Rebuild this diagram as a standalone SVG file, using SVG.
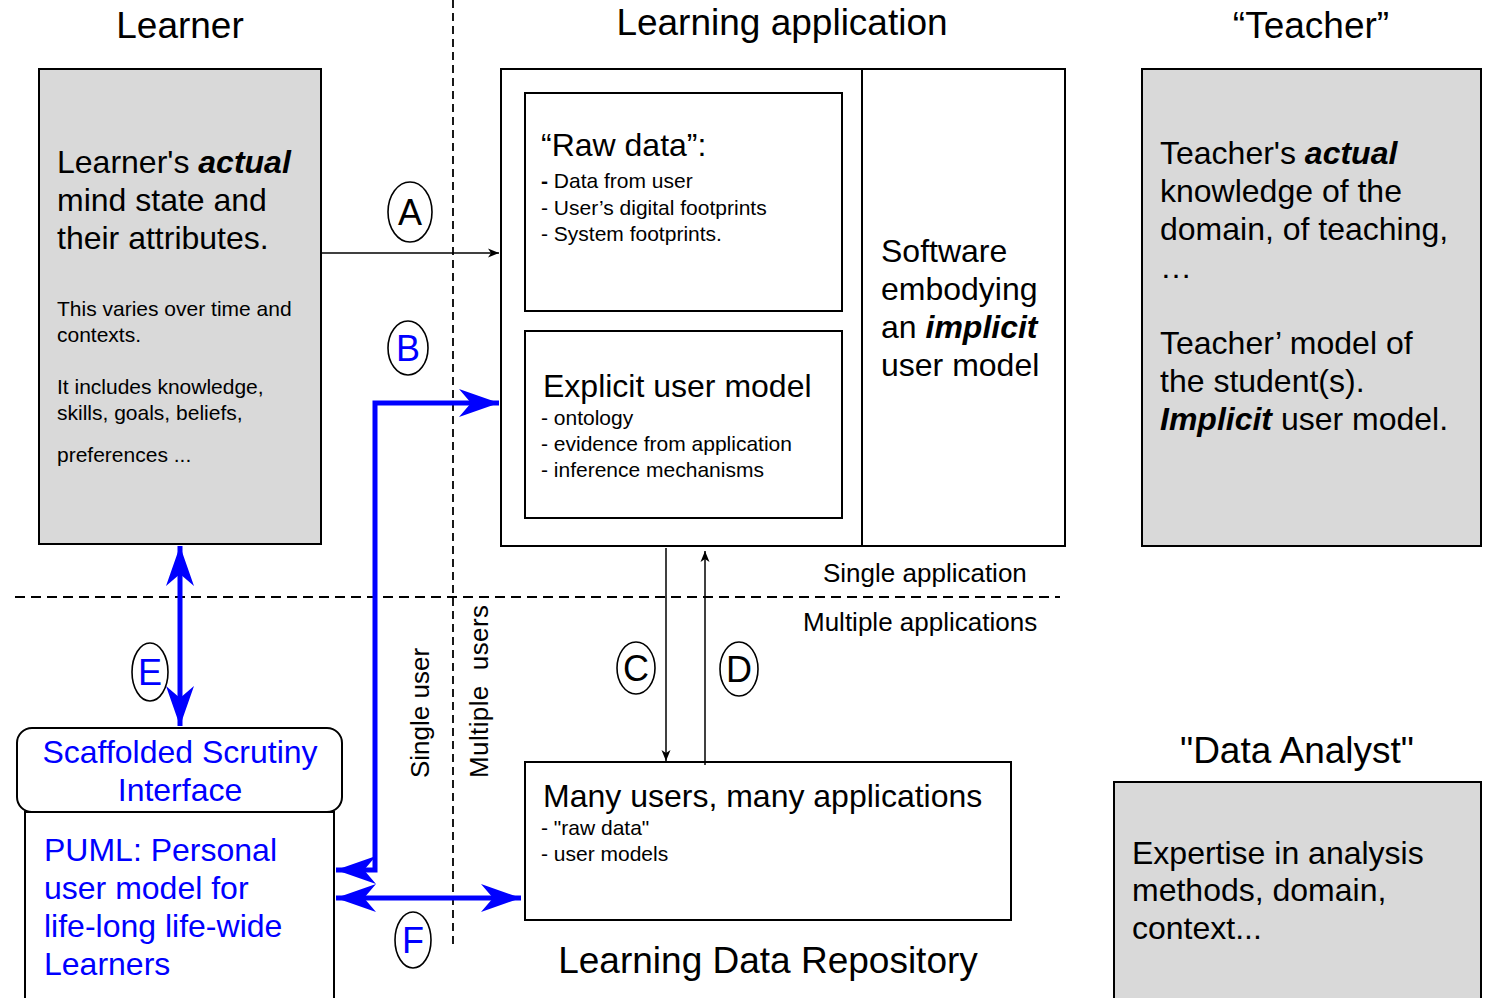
<svg xmlns="http://www.w3.org/2000/svg" width="1491" height="998" viewBox="0 0 1491 998">
<style>
text{font-family:"Liberation Sans",Arial,sans-serif;fill:#000}
.t37{font-size:37px}
.t32{font-size:32px}
.t26{font-size:26px}
.t21{font-size:21px}
.blue{fill:#0000ff}
.bi{font-weight:bold;font-style:italic}
.gray{fill:#d9d9d9;stroke:#000;stroke-width:2}
.box{fill:#fff;stroke:#000;stroke-width:2}
.dash{stroke:#000;stroke-width:1.8;fill:none}
.thin{stroke:#000;stroke-width:1.5;fill:none}
.thick{stroke:#0000ff;stroke-width:5;fill:none}
.lbl{fill:#fff;stroke:#000;stroke-width:1.6}
.ltr{font-size:36px;text-anchor:middle}
</style>
<defs>
<marker id="ah" markerUnits="userSpaceOnUse" markerWidth="14" markerHeight="12" viewBox="-12 -6 14 12" refX="0" refY="0" orient="auto-start-reverse">
<path d="M0,0 L-11,-4.5 L-8,0 L-11,4.5 Z" fill="#000"/>
</marker>
<marker id="bh" markerUnits="userSpaceOnUse" markerWidth="44" markerHeight="32" viewBox="-42 -16 44 32" refX="0" refY="0" orient="auto-start-reverse">
<path d="M0,0 L-40,-14 L-28,0 L-40,14 Z" fill="#0000ff"/>
</marker>
</defs>
<rect width="1491" height="998" fill="#fff"/>

<g id="dividers">
<line class="dash" x1="453" y1="0" x2="453" y2="945" stroke-dasharray="8 5"/>
<line class="dash" x1="15" y1="597" x2="1060" y2="597" stroke-dasharray="10 6"/>
</g>

<g id="titles">
<text class="t37" x="180" y="38" text-anchor="middle">Learner</text>
<text class="t37" x="782" y="35" text-anchor="middle">Learning application</text>
<text class="t37" x="1311" y="38" text-anchor="middle">“Teacher”</text>
<text class="t37" x="1297" y="763" text-anchor="middle">"Data Analyst"</text>
<text class="t37" x="768" y="973" text-anchor="middle">Learning Data Repository</text>
<text class="t26" x="823" y="582">Single application</text>
<text class="t26" x="803" y="631">Multiple applications</text>
<text class="t26" transform="translate(429,778) rotate(-90)">Single user</text>
<text class="t26" transform="translate(488,778) rotate(-90)" xml:space="preserve" textLength="173" lengthAdjust="spacing">Multiple  users</text>
</g>

<g id="learner">
<rect class="gray" x="39" y="69" width="282" height="475"/>
<text class="t32" x="57" y="173">Learner's <tspan class="bi">actual</tspan></text>
<text class="t32" x="57" y="211">mind state and</text>
<text class="t32" x="57" y="249">their attributes.</text>
<text class="t21" x="57" y="316">This varies over time and</text>
<text class="t21" x="57" y="342">contexts.</text>
<text class="t21" x="57" y="394">It includes knowledge,</text>
<text class="t21" x="57" y="420">skills, goals, beliefs,</text>
<text class="t21" x="57" y="462">preferences ...</text>
</g>

<g id="learning-application">
<rect class="box" x="501" y="69" width="564" height="477"/>
<line x1="862" y1="69" x2="862" y2="546" stroke="#000" stroke-width="2"/>
<text class="t32" x="881" y="262">Software</text>
<text class="t32" x="881" y="300">embodying</text>
<text class="t32" x="881" y="338">an <tspan class="bi">implicit</tspan></text>
<text class="t32" x="881" y="376">user model</text>
</g>

<g id="raw-data">
<rect class="box" x="525" y="93" width="317" height="218"/>
<text class="t32" x="541" y="156">“Raw data”:</text>
<text class="t21" x="541" y="188"><tspan font-weight="bold">-</tspan> Data from user</text>
<text class="t21" x="541" y="215">- User’s digital footprints</text>
<text class="t21" x="541" y="241">- System footprints.</text>
</g>

<g id="explicit-user-model">
<rect class="box" x="525" y="331" width="317" height="187"/>
<text class="t32" x="543" y="397">Explicit user model</text>
<text class="t21" x="541" y="425">- ontology</text>
<text class="t21" x="541" y="451">- evidence from application</text>
<text class="t21" x="541" y="477">- inference mechanisms</text>
</g>

<g id="teacher">
<rect class="gray" x="1142" y="69" width="339" height="477"/>
<text class="t32" x="1160" y="164">Teacher's <tspan class="bi">actual</tspan></text>
<text class="t32" x="1160" y="202">knowledge of the</text>
<text class="t32" x="1160" y="240">domain, of teaching,</text>
<text class="t32" x="1160" y="278">…</text>
<text class="t32" x="1160" y="354">Teacher’ model of</text>
<text class="t32" x="1160" y="392">the student(s).</text>
<text class="t32" x="1160" y="430"><tspan class="bi">Implicit</tspan> user model.</text>
</g>

<g id="repository">
<rect class="box" x="525" y="762" width="486" height="158"/>
<text class="t32" x="543" y="807">Many users, many applications</text>
<text class="t21" x="541" y="835">- "raw data"</text>
<text class="t21" x="541" y="861">- user models</text>
</g>

<g id="data-analyst">
<rect class="gray" x="1114" y="782" width="367" height="230"/>
<text class="t32" x="1132" y="864">Expertise in analysis</text>
<text class="t32" x="1132" y="901">methods, domain,</text>
<text class="t32" x="1132" y="939">context...</text>
</g>

<g id="scrutiny-interface">
<rect class="box" x="17" y="728" width="325" height="84" rx="15"/>
<text class="t32 blue" x="180" y="763" text-anchor="middle">Scaffolded Scrutiny</text>
<text class="t32 blue" x="180" y="801" text-anchor="middle">Interface</text>
</g>

<g id="puml">
<rect class="box" x="25" y="812" width="309" height="200"/>
<text class="t32 blue" x="44" y="861">PUML: Personal</text>
<text class="t32 blue" x="44" y="899">user model for</text>
<text class="t32 blue" x="44" y="937">life-long life-wide</text>
<text class="t32 blue" x="44" y="975">Learners</text>
</g>

<g id="connectors">
<line class="thin" x1="321" y1="253" x2="499" y2="253" marker-end="url(#ah)"/>
<line class="thin" x1="666" y1="548" x2="666" y2="761" marker-end="url(#ah)"/>
<line class="thin" x1="705" y1="765" x2="705" y2="551" marker-end="url(#ah)"/>
<polyline class="thick" points="336,870 375,870 375,403 499,403" marker-start="url(#bh)" marker-end="url(#bh)"/>
<line class="thick" x1="336" y1="898" x2="521" y2="898" marker-start="url(#bh)" marker-end="url(#bh)"/>
<line class="thick" x1="180" y1="546" x2="180" y2="726" marker-start="url(#bh)" marker-end="url(#bh)"/>
</g>

<g id="labels">
<ellipse class="lbl" cx="410" cy="212" rx="22" ry="30"/>
<text class="ltr" x="410" y="225">A</text>
<ellipse class="lbl" cx="408" cy="348" rx="20" ry="27"/>
<text class="ltr blue" x="408" y="361">B</text>
<ellipse class="lbl" cx="636" cy="668" rx="19" ry="26"/>
<text class="ltr" x="636" y="681">C</text>
<ellipse class="lbl" cx="739" cy="669" rx="19" ry="27"/>
<text class="ltr" x="739" y="682">D</text>
<ellipse class="lbl" cx="150" cy="672" rx="18" ry="29"/>
<text class="ltr blue" x="150" y="685">E</text>
<ellipse class="lbl" cx="413" cy="940" rx="18" ry="28"/>
<text class="ltr blue" x="413" y="953">F</text>
</g>
</svg>
